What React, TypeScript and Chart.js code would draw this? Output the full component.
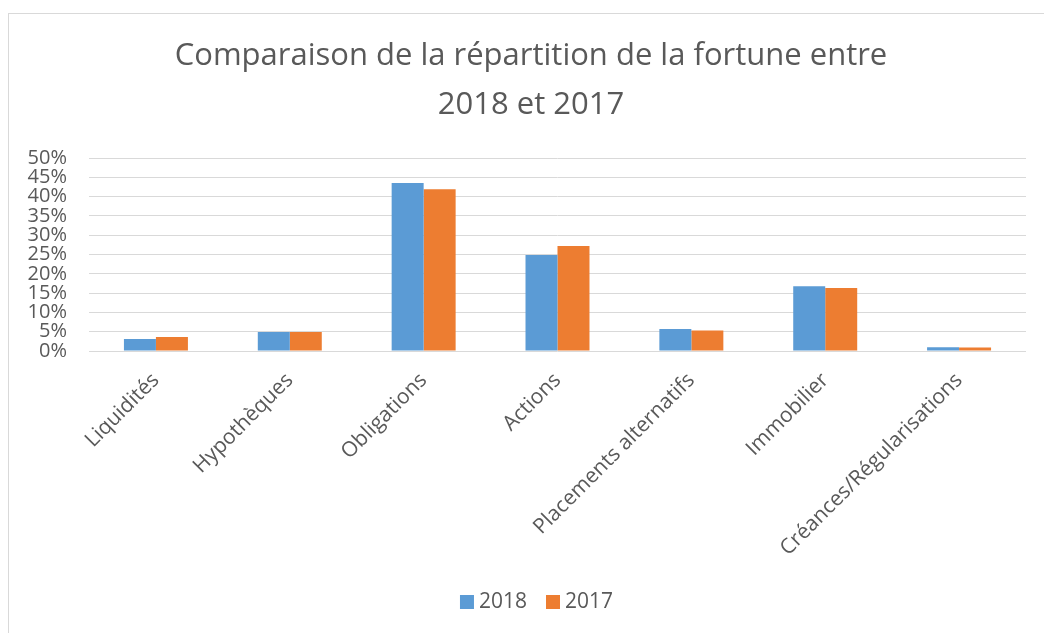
import React, { useEffect, useRef } from "react";
import { Chart, registerables } from "chart.js";

Chart.register(...registerables);

const categories = [
  "Liquidités",
  "Hypothèques",
  "Obligations",
  "Actions",
  "Placements alternatifs",
  "Immobilier",
  "Créances/Régularisations",
];
const values2018 = [3.1, 4.9, 43.5, 24.9, 5.7, 16.8, 1.0];
const values2017 = [3.6, 4.9, 41.9, 27.2, 5.3, 16.3, 0.9];
const seriesNames = ["2018", "2017"];
const seriesColors = ["#5B9BD5", "#ED7D31"];
const titleLines = ["Comparaison de la répartition de la fortune entre", "2018 et 2017"];
const yMin = 0;
const yMax = 50;
const yStep = 5;

const FONT = "'Open Sans', 'Liberation Sans', sans-serif";
const TEXT = "#595959";

// Title + legend drawn centred on the chart frame (which extends past the page edge)
const frameDecor = {
  id: "frameDecor",
  afterDraw(chart: any) {
    const ctx = chart.ctx as CanvasRenderingContext2D;
    ctx.save();
    ctx.fillStyle = TEXT;
    ctx.textAlign = "center";
    ctx.textBaseline = "alphabetic";
    ctx.font = `31px ${FONT}`;
    const cx = 531;
    ctx.fillText(titleLines[0], cx, 65);
    ctx.fillText(titleLines[1], cx, 114);

    // legend
    ctx.font = `21px ${FONT}`;
    const box = 14;
    const gapBoxText = 5;
    const gapItems = 19;
    const items = chart.data.datasets.map((d: any) => ({
      label: d.label,
      color: d.backgroundColor,
      w: ctx.measureText(d.label).width,
    }));
    let total = 0;
    items.forEach((it: any, i: number) => {
      total += box + gapBoxText + it.w + (i < items.length - 1 ? gapItems : 0);
    });
    let x = 536.5 - total / 2;
    ctx.textAlign = "left";
    items.forEach((it: any) => {
      ctx.fillStyle = it.color;
      ctx.fillRect(x, 595, box, box);
      ctx.fillStyle = TEXT;
      ctx.fillText(it.label, x + box + gapBoxText, 608);
      x += box + gapBoxText + it.w + gapItems;
    });
    ctx.restore();
  },
};

export default function App() {
  const ref = useRef<HTMLCanvasElement | null>(null);

  useEffect(() => {
    document.body.style.margin = "0";
    document.body.style.overflow = "hidden";
    const canvas = ref.current;
    if (!canvas) return;
    const chart = new Chart(canvas, {
      type: "bar",
      data: {
        labels: categories,
        datasets: [
          {
            label: seriesNames[0],
            data: values2018,
            backgroundColor: seriesColors[0],
            borderWidth: 0,
            categoryPercentage: 0.478,
            barPercentage: 1,
          },
          {
            label: seriesNames[1],
            data: values2017,
            backgroundColor: seriesColors[1],
            borderWidth: 0,
            categoryPercentage: 0.478,
            barPercentage: 1,
          },
        ],
      },
      options: {
        responsive: false,
        animation: false,
        devicePixelRatio: 1,
        layout: { padding: { left: 0, right: 18, top: 158, bottom: 0 } },
        plugins: {
          title: { display: false },
          legend: { display: false },
          tooltip: { enabled: false },
        },
        scales: {
          x: {
            grid: { display: false },
            border: { display: false },
            ticks: {
              color: TEXT,
              font: { family: FONT, size: 21 },
              maxRotation: 45,
              minRotation: 45,
              autoSkip: false,
              padding: 9,
            },
            afterFit: (scale: any) => {
              scale.height = 282;
            },
          },
          y: {
            min: yMin,
            max: yMax,
            grid: { color: "#D9D9D9", lineWidth: 1, drawTicks: false },
            border: { display: false },
            ticks: {
              stepSize: yStep,
              autoSkip: false,
              color: TEXT,
              font: { family: FONT, size: 20, lineHeight: 1 },
              padding: 22,
              callback: (v: any) => `${v}%`,
            },
            afterFit: (scale: any) => {
              scale.width = 89;
            },
          },
        },
      },
      plugins: [frameDecor],
    });
    return () => chart.destroy();
  }, []);

  return (
    <div style={{ position: "relative", width: 1044, height: 633, overflow: "hidden", background: "#fff" }}>
      <div
        style={{
          position: "absolute",
          left: 8,
          top: 13,
          width: 1100,
          height: 700,
          border: "1px solid #D9D9D9",
          boxSizing: "border-box",
        }}
      />
      <canvas
        ref={ref}
        width={1044}
        height={633}
        style={{ position: "absolute", left: 0, top: 0, width: 1044, height: 633 }}
      />
    </div>
  );
}
